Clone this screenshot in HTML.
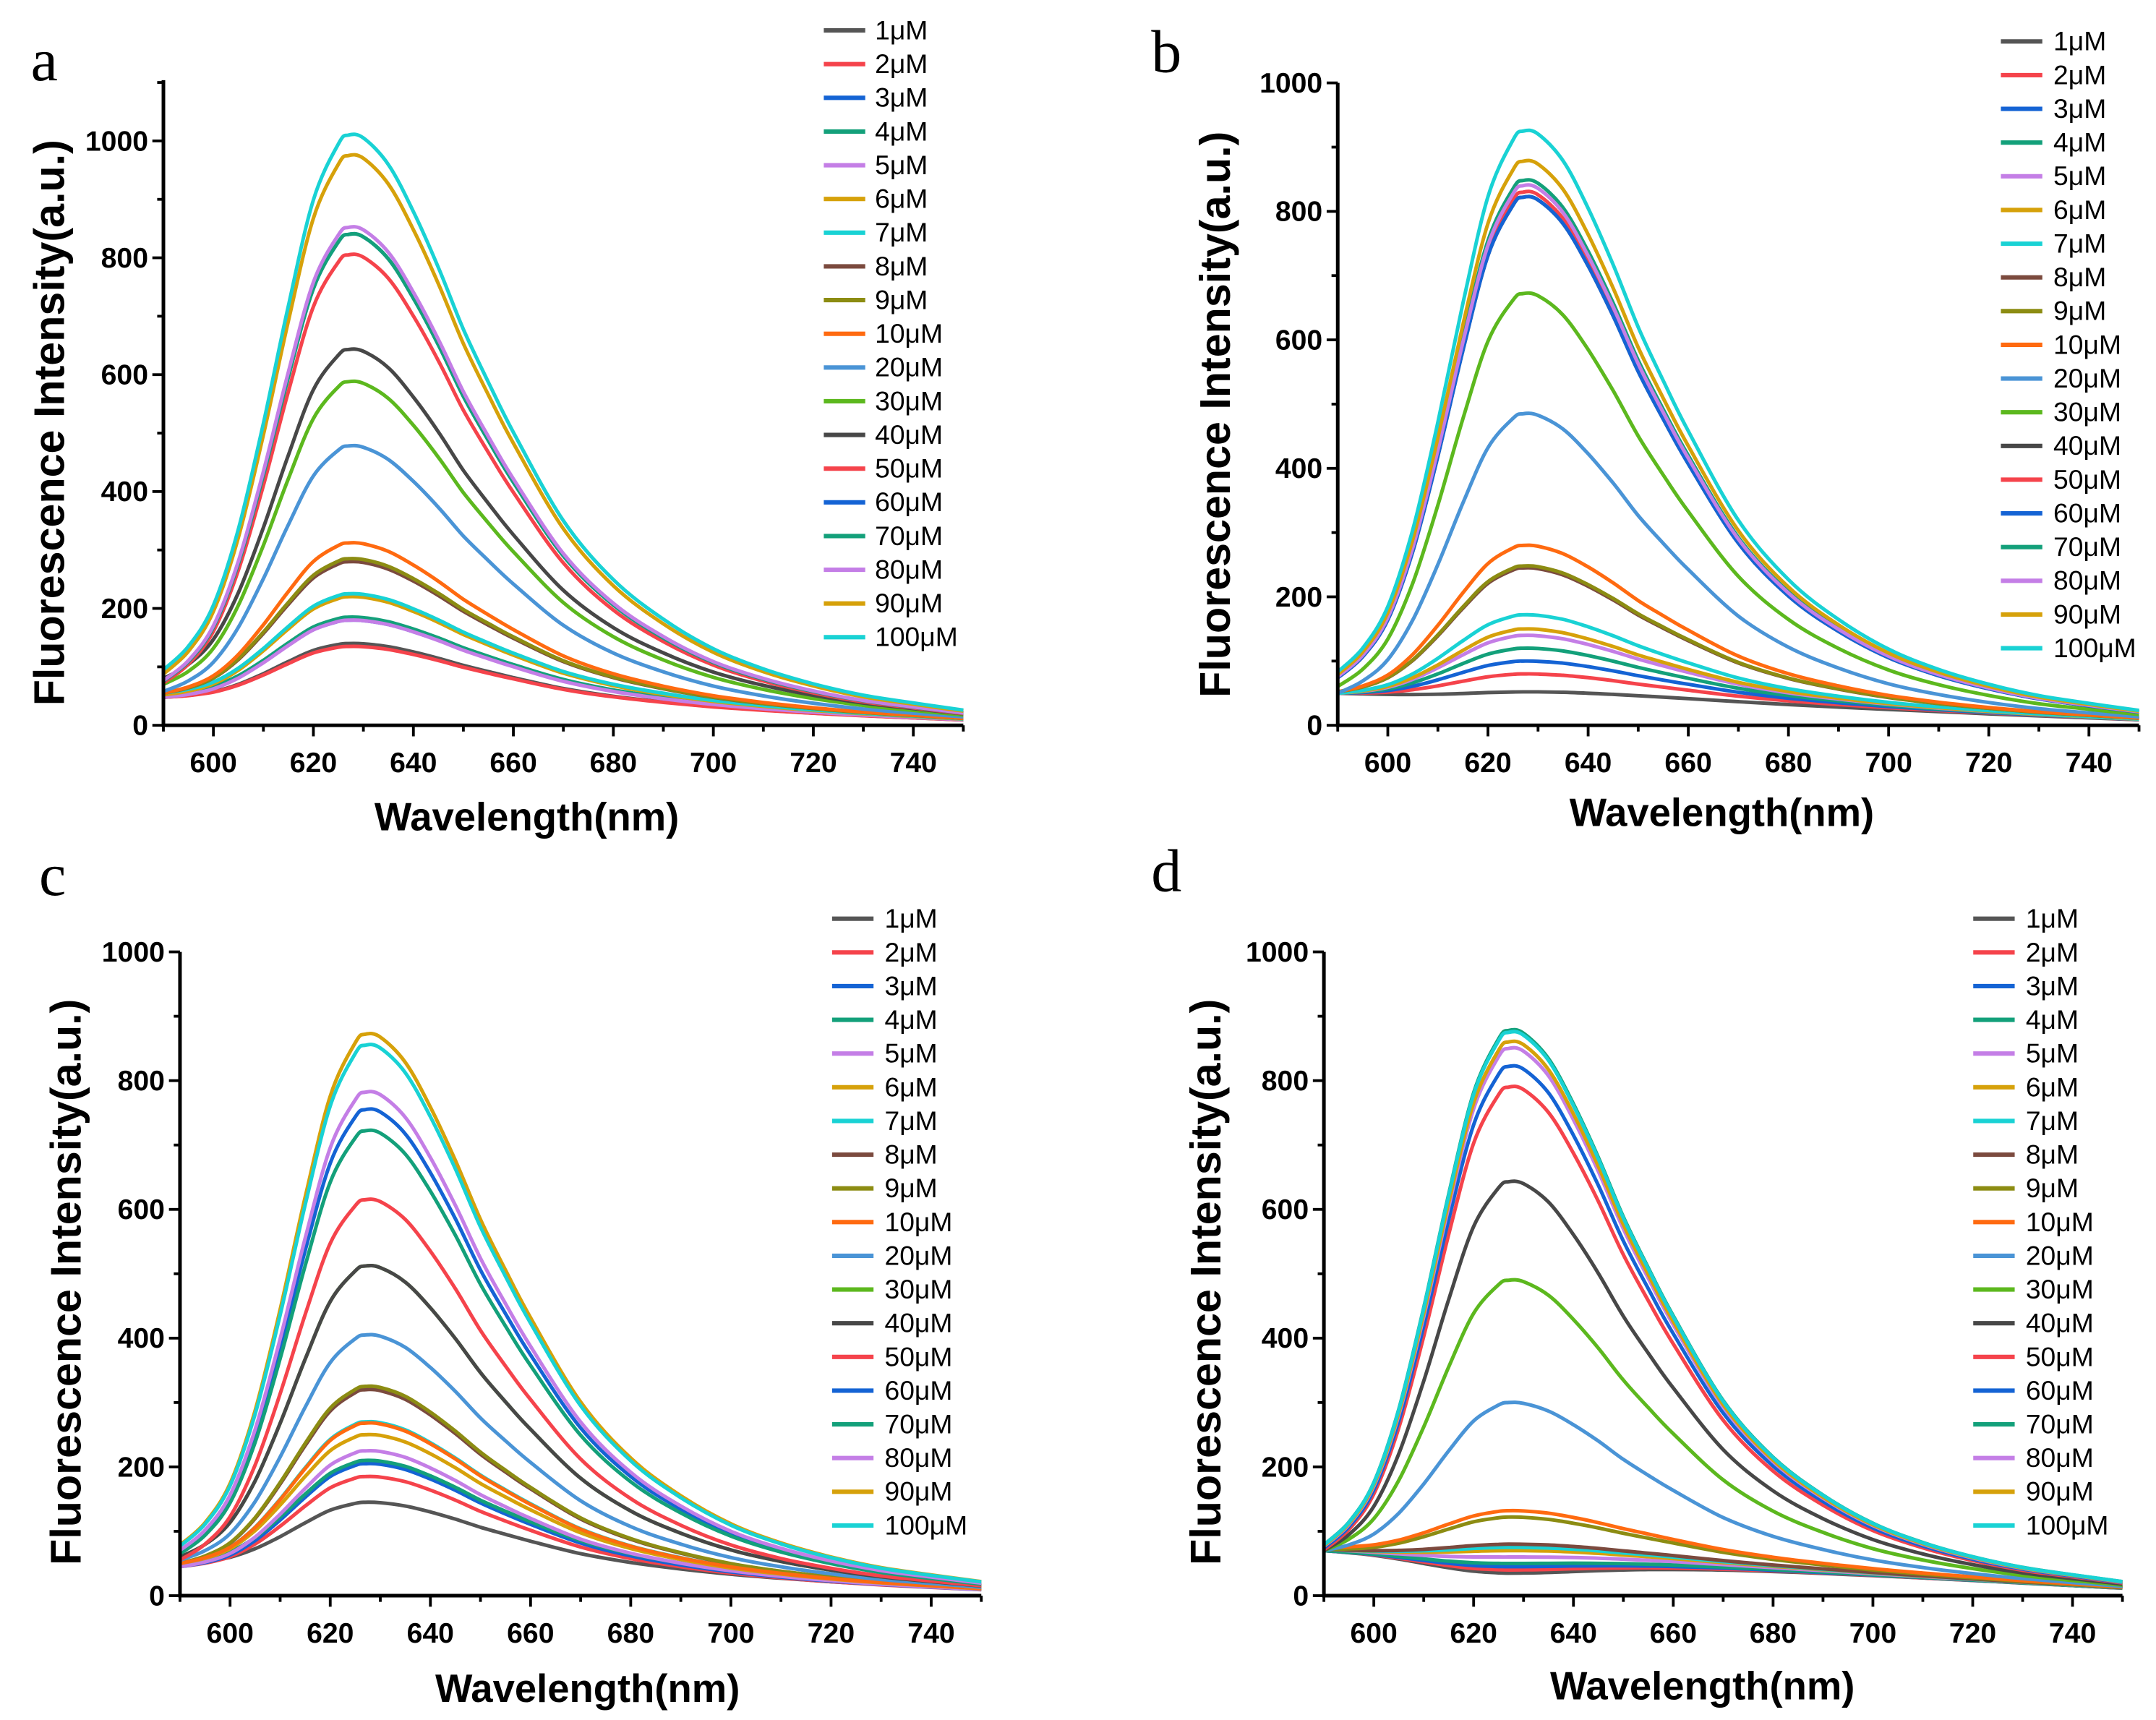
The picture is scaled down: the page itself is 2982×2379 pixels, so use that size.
<!DOCTYPE html>
<html><head><meta charset="utf-8"><style>
html,body{margin:0;padding:0;background:#fff}
svg{display:block}
text{font-family:"Liberation Sans",sans-serif}
</style></head><body>
<svg id="fig" width="2982" height="2379" viewBox="0 0 1560 1245" xmlns="http://www.w3.org/2000/svg"></svg>
<script>
const labels=["1μM","2μM","3μM","4μM","5μM","6μM","7μM","8μM","9μM","10μM","20μM","30μM","40μM","50μM","60μM","70μM","80μM","90μM","100μM"];
const colors=["#555555","#f5434b","#1463d4","#13a07a","#c47ee6","#d6a10a","#19d2d4","#7b4a3e","#8c8c12","#ff6a10","#4a94d6","#5cb81e","#474747","#f5434b","#1463d4","#13a07a","#c47ee6","#d6a10a","#19d2d4"];
const wl=[590,595,600,605,610,615,620,625,627,630,635,640,645,650,655,660,670,680,690,700,710,720,730,740,750];
const shape=[0.09,0.13,0.2,0.33,0.51,0.71,0.89,0.985,1,0.995,0.95,0.87,0.775,0.67,0.58,0.495,0.345,0.245,0.178,0.128,0.094,0.069,0.05,0.037,0.025];
const peaksA=[140,135,180,185,180,220,225,280,285,312,478,588,643,805,840,840,852,975,1010];
const startA=[48,48,50,52,48,52,55,55,55,55,58,70,80,65,65,65,68,85,95];
const peaksB=[52,80,100,120,140,150,172,245,248,280,485,672,822,830,822,848,840,878,925];
const startB=[50,50,50,50,50,50,50,52,52,52,50,50,50,50,50,50,50,50,40];
const peaksC=[145,185,205,210,225,250,270,320,325,268,405,512,512,615,755,722,782,872,855];
const startC=[50,45,45,50,45,50,50,50,50,50,55,60,60,55,60,60,60,70,75];
const peaksD=[35,40,45,50,60,70,75,80,122,132,300,490,643,790,822,878,850,860,875];
const startD=[70,70,70,70,72,72,72,72,72,75,70,70,70,65,65,65,65,65,55];
const yTicks=[0,200,400,600,800,1000];
const xTicks=[600,620,640,660,680,700,720,740];

const NS="http://www.w3.org/2000/svg";
const svg=document.getElementById('fig');
function el(tag,attrs,parent){const e=document.createElementNS(NS,tag);for(const k in attrs)e.setAttribute(k,attrs[k]);(parent||svg).appendChild(e);return e;}

const panels=[
 {id:'a',x0:118,x1:697,y0:525,yTop:58,ymax:1104,peaks:peaksA,start:startA,leg:{lx:596,tx:633,y:22},letter:[22,58],yt:[36,306],xt:[381,601]},
 {id:'b',x0:968,x1:1548,y0:525,yTop:60,ymax:1000,peaks:peaksB,start:startB,leg:{lx:1448,tx:1486,y:30},letter:[833,52],yt:[880,300],xt:[1246,598]},
 {id:'c',x0:130,x1:710,y0:1155,yTop:689,ymax:1000,peaks:peaksC,start:startC,leg:{lx:602,tx:640,y:665},letter:[28,648],yt:[48,928],xt:[425,1232]},
 {id:'d',x0:958,x1:1536,y0:1155,yTop:689,ymax:1000,peaks:peaksD,start:startD,leg:{lx:1428,tx:1466,y:665},letter:[833,645],yt:[873,928],xt:[1232,1230]}
];

function smoothPath(pts){
 let d='M'+pts[0][0].toFixed(1)+','+pts[0][1].toFixed(1);
 for(let i=0;i<pts.length-1;i++){
  const p0=pts[Math.max(0,i-1)],p1=pts[i],p2=pts[i+1],p3=pts[Math.min(pts.length-1,i+2)];
  const c1=[p1[0]+(p2[0]-p0[0])/6,p1[1]+(p2[1]-p0[1])/6];
  const c2=[p2[0]-(p3[0]-p1[0])/6,p2[1]-(p3[1]-p1[1])/6];
  d+=' C'+c1[0].toFixed(1)+','+c1[1].toFixed(1)+' '+c2[0].toFixed(1)+','+c2[1].toFixed(1)+' '+p2[0].toFixed(1)+','+p2[1].toFixed(1);
 }
 return d;
}

panels.forEach(P=>{
 const g=el('g',{});
 
 
 const sx=v=>P.x0+(v-590)/(750-590)*(P.x1-P.x0);
 const sy=v=>P.y0-v/P.ymax*(P.y0-P.yTop);
 const cg=el('g',{},g);
 
 
 P.peaks.forEach((pk,i)=>{
  const extra=Math.max(0,P.start[i]-pk*shape[0])/(1-shape[0]);
  const pts=wl.map((w,j)=>{
   const decay=1-0.85*(w-590)/160;
   const v=pk*shape[j]+extra*(1-shape[j])*decay;
   return [sx(w),sy(v)];
  });
  const p=el('path',{d:smoothPath(pts),fill:'none',stroke:colors[i],'stroke-width':2.6,'stroke-linejoin':'round'},cg);
  
  
 });
 const ax=el('path',{d:`M${P.x0},${P.yTop} V${P.y0} H${P.x1}`,fill:'none',stroke:'#000','stroke-width':2.6},g);
 
 
 for(let v=0;v<=P.ymax;v+=100){
  const y=sy(v),maj=v%200===0;
  el('line',{x1:P.x0,x2:P.x0-(maj?8:4.5),y1:y,y2:y,stroke:'#000','stroke-width':2},g);
 }
 yTicks.forEach(v=>{
  if(v>P.ymax)return;
  const t=el('text',{x:P.x0-11,y:sy(v)+7,'text-anchor':'end','font-size':20.5,'font-weight':'bold'},g);
  t.textContent=v;
  
  
 });
 for(let v=590;v<=750;v+=10){
  const x=sx(v),maj=(v-600)%20===0;
  el('line',{x1:x,x2:x,y1:P.y0,y2:P.y0+(maj?8:4.5),stroke:'#000','stroke-width':2},g);
 }
 xTicks.forEach(v=>{
  const t=el('text',{x:sx(v),y:P.y0+34,'text-anchor':'middle','font-size':20.5,'font-weight':'bold'},g);
  t.textContent=v;
  
  
 });
 const xt=el('text',{x:P.xt[0],y:P.xt[1],'text-anchor':'middle','font-size':28.5,'font-weight':'bold'},g);
 xt.textContent='Wavelength(nm)';
 
 
 const yt=el('text',{x:0,y:0,'text-anchor':'middle','font-size':31,'font-weight':'bold',transform:`translate(${P.yt[0]+10},${P.yt[1]}) rotate(-90)`},g);
 yt.textContent='Fluorescence Intensity(a.u.)';
 
 
 const lt=el('text',{x:P.letter[0],y:P.letter[1],'font-size':44,style:'font-family:"Liberation Serif",serif'},g);
 lt.textContent=P.id;
 
 
 const lg=el('g',{},g);
 
 
 labels.forEach((lab,i)=>{
  const y=P.leg.y+i*24.4;
  const e=el('g',{},lg);
  
  
  el('line',{x1:P.leg.lx,x2:P.leg.lx+30,y1:y,y2:y,stroke:colors[i],'stroke-width':3.2},e);
  const t=el('text',{x:P.leg.tx,y:y+6.5,'font-size':19.5},e);
  t.textContent=lab;
 });
});
</script>
</body></html>
